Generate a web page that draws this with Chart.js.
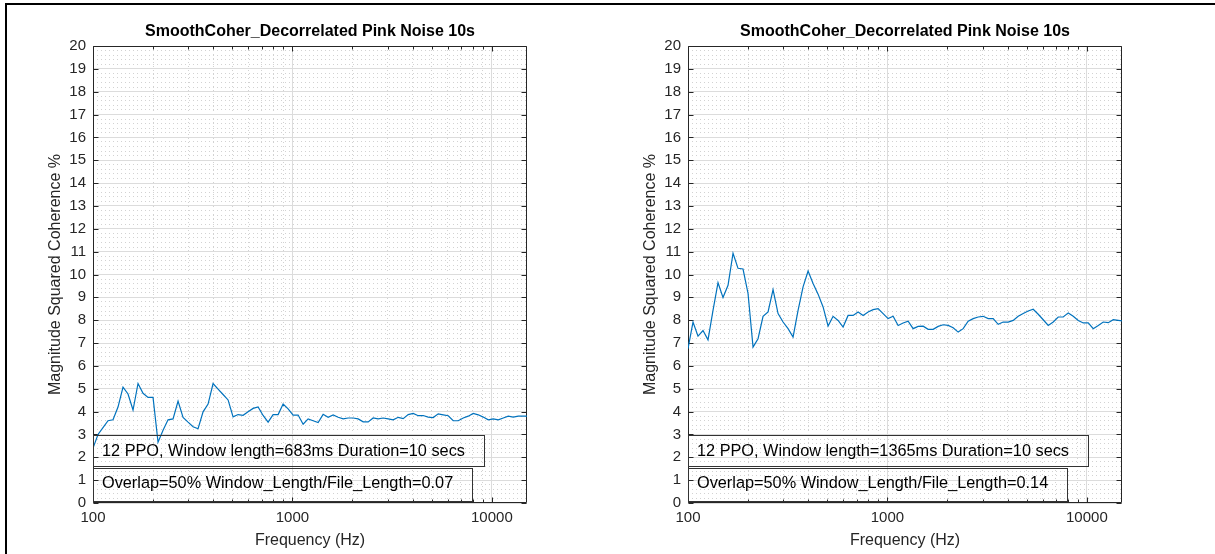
<!DOCTYPE html>
<html>
<head>
<meta charset="utf-8">
<script src="https://cdn.jsdelivr.net/npm/chart.js@4.4.1/dist/chart.umd.min.js"></script>
<style>
  html, body { margin: 0; padding: 0; background: #fff; width: 1215px; height: 554px; overflow: hidden; }
  #cLeft  { position: absolute; left: 0; top: 0; }
  #cRight { position: absolute; left: 595px; top: 0; }
  #frame { position: absolute; left: 5px; top: 3px; width: 1300px; height: 700px;
           border-top: 2px solid #000; border-left: 2px solid #000; pointer-events: none; z-index: 5; }
</style>
</head>
<body>
<canvas id="cLeft" width="595" height="554"></canvas>
<canvas id="cRight" width="620" height="554"></canvas>
<div id="frame"></div>
<script>
// ---------------- DATA ----------------
const chartTitle = 'SmoothCoher_Decorrelated Pink Noise 10s';
const xAxisLabel = 'Frequency (Hz)';
const yAxisLabel = 'Magnitude Squared Coherence %';

// 12 points per octave frequencies (Hz)
const freqs = [
  100, 105.95, 112.25, 118.92, 125.99, 133.48, 141.42, 149.83, 158.74, 168.18, 178.18, 188.77,
  200, 211.89, 224.49, 237.84, 251.98, 266.97, 282.84, 299.66, 317.48, 336.36, 356.36, 377.54,
  400, 423.79, 448.98, 475.68, 503.97, 533.93, 565.69, 599.32, 634.96, 672.72, 712.71, 755.08,
  800, 847.58, 897.97, 951.36, 1007.9, 1067.9, 1131.4, 1198.6, 1269.9, 1345.4, 1425.4, 1510.2,
  1600, 1695.2, 1795.9, 1902.7, 2015.9, 2135.7, 2262.7, 2397.3, 2539.8, 2690.9, 2850.9, 3020.3,
  3200, 3390.3, 3591.9, 3805.4, 4031.7, 4271.4, 4525.5, 4794.5, 5079.7, 5381.7, 5701.8, 6040.6,
  6400, 6780.7, 7183.8, 7610.9, 8063.5, 8542.9, 9051, 9589.1, 10159, 10764, 11404, 12082,
  12800, 13561, 14368, 15222
];

// Left panel: window 683 ms
const coherence683 = [
  2.40, 3.00, 3.30, 3.60, 3.64, 4.20, 5.07, 4.77, 4.07, 5.23, 4.80, 4.62,
  4.62, 2.66, 3.18, 3.64, 3.68, 4.46, 3.75, 3.54, 3.34, 3.25, 3.99, 4.33,
  5.23, 4.98, 4.75, 4.51, 3.77, 3.87, 3.84, 3.99, 4.14, 4.20, 3.83, 3.54,
  3.87, 3.87, 4.33, 4.12, 3.85, 3.85, 3.45, 3.68, 3.60, 3.52, 3.88, 3.75,
  3.85, 3.75, 3.68, 3.72, 3.72, 3.68, 3.55, 3.55, 3.72, 3.68, 3.72, 3.68,
  3.64, 3.75, 3.69, 3.87, 3.92, 3.82, 3.83, 3.76, 3.74, 3.90, 3.86, 3.82,
  3.60, 3.60, 3.72, 3.80, 3.92, 3.86, 3.76, 3.64, 3.68, 3.64, 3.72, 3.80,
  3.76, 3.80, 3.80, 3.80
];

// Right panel: window 1365 ms
const coherence1365 = [
  6.75, 7.92, 7.30, 7.55, 7.14, 8.43, 9.64, 8.99, 9.53, 10.93, 10.27, 10.24,
  9.17, 6.82, 7.19, 8.17, 8.36, 9.34, 8.29, 7.92, 7.63, 7.26, 8.43, 9.46,
  10.15, 9.61, 9.14, 8.58, 7.74, 8.17, 7.99, 7.70, 8.21, 8.21, 8.36, 8.21,
  8.36, 8.46, 8.51, 8.29, 8.07, 8.17, 7.77, 7.88, 7.96, 7.63, 7.73, 7.74,
  7.60, 7.60, 7.73, 7.80, 7.77, 7.67, 7.48, 7.63, 7.96, 8.07, 8.14, 8.17,
  8.07, 8.07, 7.82, 7.92, 7.92, 7.99, 8.17, 8.29, 8.40, 8.48, 8.26, 8.02,
  7.77, 7.92, 8.14, 8.14, 8.32, 8.17, 7.99, 7.88, 7.88, 7.63, 7.77, 7.92,
  7.89, 8.02, 7.99, 7.96
];

const xMajorTicks = [100, 1000, 10000];
const xLimits = [100, 15000];
const yMajorTicks = [0,1,2,3,4,5,6,7,8,9,10,11,12,13,14,15,16,17,18,19,20];
const yLimits = [0, 20];

const notesLeft = [
  '12 PPO, Window length=683ms Duration=10 secs',
  'Overlap=50% Window_Length/File_Length=0.07'
];
const notesRight = [
  '12 PPO, Window length=1365ms Duration=10 secs',
  'Overlap=50% Window_Length/File_Length=0.14'
];

// ---------------- STYLE ----------------
const FONT = '"Liberation Sans", Arial, Helvetica, sans-serif';
const AXIS_COLOR = '#262626';
const LINE_COLOR = '#0072BD';

const matlabAxes = {
  id: 'matlabAxes',
  beforeDatasetsDraw(chart) {
    const {ctx, chartArea: a, scales: {x, y}} = chart;
    ctx.save();
    ctx.strokeStyle = AXIS_COLOR;
    ctx.lineWidth = 1;
    const L = Math.round(a.left) + 0.5, R = Math.round(a.right) - 0.5;
    const T = Math.round(a.top) + 0.5, B = Math.round(a.bottom) - 0.5;
    ctx.beginPath();
    ctx.rect(L, T, R - L, B - T);
    for (const v of yMajorTicks) {
      const py = Math.round(y.getPixelForValue(v)) + 0.5;
      ctx.moveTo(L, py); ctx.lineTo(L + 5, py);
      ctx.moveTo(R, py); ctx.lineTo(R - 5, py);
    }
    for (const t of x.ticks) {
      const px = Math.round(x.getPixelForValue(t.value)) + 0.5;
      const len = t.major ? 5 : 3;
      ctx.moveTo(px, B); ctx.lineTo(px, B - len);
      ctx.moveTo(px, T); ctx.lineTo(px, T + len);
    }
    ctx.stroke();
    ctx.restore();
  },
  afterDraw(chart, args, opts) {
    const {ctx, chartArea: a} = chart;
    ctx.save();
    // title
    ctx.fillStyle = '#000';
    ctx.font = 'bold 16px ' + FONT;
    ctx.textAlign = 'center';
    ctx.textBaseline = 'middle';
    ctx.fillText(opts.title, (a.left + a.right) / 2, 32);
    // annotation boxes
    ctx.font = '16.3px ' + FONT;
    ctx.textAlign = 'left';
    ctx.textBaseline = 'alphabetic';
    ctx.strokeStyle = '#333';
    ctx.lineWidth = 1;
    const boxes = [{top: 435, bottom: 466, base: 455.5}, {top: 468, bottom: 501, base: 488}];
    opts.notes.forEach((txt, i) => {
      const b = boxes[i];
      const tx = a.left + 9;
      const w = ctx.measureText(txt).width;
      const left = Math.round(a.left) + 0.5;
      const right = Math.round(tx + w + 19) + 0.5;
      ctx.strokeRect(left, b.top + 0.5, right - left, b.bottom - b.top);
      ctx.fillStyle = '#000';
      ctx.fillText(txt, tx, b.base);
    });
    ctx.restore();
  }
};

function makeChart(canvasId, values, notes, rightPad) {
  const points = freqs.map((f, i) => ({x: f, y: values[i]}));
  return new Chart(document.getElementById(canvasId), {
    type: 'line',
    data: {
      datasets: [{
        data: points,
        borderColor: LINE_COLOR,
        borderWidth: 1.2,
        pointRadius: 0,
        tension: 0,
        fill: false
      }]
    },
    plugins: [matlabAxes],
    options: {
      responsive: false,
      animation: false,
      devicePixelRatio: 1,
      layout: { padding: { left: 0, top: 46, right: rightPad, bottom: 0 } },
      plugins: {
        legend: { display: false },
        title: { display: false },
        tooltip: { enabled: false },
        matlabAxes: { title: chartTitle, notes: notes }
      },
      scales: {
        x: {
          type: 'logarithmic',
          min: xLimits[0], max: xLimits[1],
          afterBuildTicks: s => {
            const t = [];
            for (const d of xMajorTicks) {
              for (let m = 1; m <= 9; m++) {
                const v = d * m;
                if (v <= xLimits[1]) t.push({value: v, major: m === 1});
              }
            }
            s.ticks = t;
          },
          afterFit: s => { s.height = 51; },
          ticks: {
            autoSkip: false, maxRotation: 0, minRotation: 0, padding: 6,
            color: AXIS_COLOR, font: {family: FONT, size: 15},
            callback: v => xMajorTicks.includes(v) ? String(v) : ''
          },
          grid: {
            drawTicks: false,
            lineWidth: 1,
            color: c => (c.tick && c.tick.major) ? '#dcdcdc' : '#d2d2d2'
          },
          border: { display: false, dash: c => (c.tick && !c.tick.major) ? [1, 3] : [] },
          title: {
            display: true, text: xAxisLabel, color: AXIS_COLOR,
            font: {family: FONT, size: 16}, padding: {top: 0, bottom: 4}
          }
        },
        y: {
          type: 'linear',
          min: yLimits[0], max: yLimits[1],
          afterBuildTicks: s => {
            const t = [];
            for (let i = 0; i < yMajorTicks.length; i++) {
              const v = yMajorTicks[i];
              t.push({value: v, major: true});
              if (i < yMajorTicks.length - 1) {
                for (let k = 1; k < 5; k++) t.push({value: v + k / 5, major: false});
              }
            }
            s.ticks = t;
          },
          afterFit: s => { s.width = 93; },
          ticks: {
            autoSkip: false, padding: 7,
            color: AXIS_COLOR, font: {family: FONT, size: 15},
            callback: v => yMajorTicks.includes(v) ? String(v) : ''
          },
          grid: {
            drawTicks: false,
            lineWidth: 1,
            color: c => (c.tick && c.tick.major) ? '#dcdcdc' : '#d2d2d2'
          },
          border: { display: false, dash: c => (c.tick && !c.tick.major) ? [1, 3] : [] },
          title: {
            display: true, text: yAxisLabel, color: AXIS_COLOR,
            font: {family: FONT, size: 16}, padding: {top: 45.5, bottom: 0}
          }
        }
      }
    }
  });
}

makeChart('cLeft', coherence683, notesLeft, 68);
makeChart('cRight', coherence1365, notesRight, 93);
</script>
</body>
</html>
